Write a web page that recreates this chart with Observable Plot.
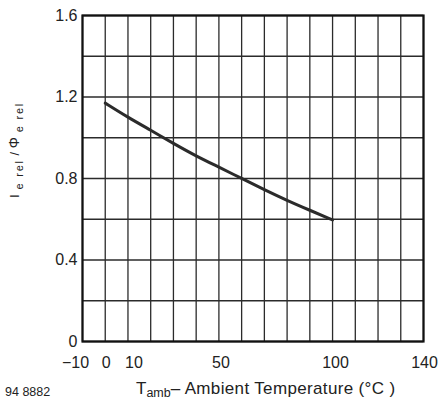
<!DOCTYPE html>
<html>
<head>
<meta charset="utf-8">
<script src="https://cdn.jsdelivr.net/npm/d3@7"></script>
<script src="https://cdn.jsdelivr.net/npm/@observablehq/plot@0.6"></script>
<style>
  html, body { margin: 0; padding: 0; background: #fff; }
  #chart svg { display: block; }
</style>
</head>
<body>
<div id="chart"></div>
<script>
// Ambient temperature (°C)
const temps = [0, 10, 20, 30, 40, 50, 60, 70, 80, 90, 100];
// Relative radiant intensity / radiant power
const relValues = [1.17, 1.10, 1.037, 0.972, 0.91, 0.856, 0.80, 0.745, 0.692, 0.644, 0.597];

// Grid and tick labels
const xGrid = [-10, 0, 10, 20, 30, 40, 50, 60, 70, 80, 90, 100, 110, 120, 130, 140];
const yGrid = [0, 0.2, 0.4, 0.6, 0.8, 1.0, 1.2, 1.4, 1.6];
const xTickLabels = [-10, 0, 10, 50, 100, 140];
const yTickLabels = [0, 0.4, 0.8, 1.2, 1.6];

const data = temps.map((t, i) => ({t, v: relValues[i]}));

const ink = "#2b2b2b";
const font = "'Liberation Sans', Arial, Helvetica, sans-serif";

// small horizontal nudges of crowded tick labels, as in the original
const xLabelNudge = {"-10": -7, "0": 1, "10": 6, "50": 2, "100": 3, "140": 1};
const xAxisOpts = {tickSize: 0, tickPadding: 15, fontSize: 16, label: null, fill: "#222"};

const chart = Plot.plot({
  width: 438,
  height: 401,
  marginLeft: 82,
  marginRight: 15,
  marginTop: 15,
  marginBottom: 60,
  style: {fontFamily: font, color: ink, background: "#fff"},
  x: {domain: [-10, 140]},
  y: {domain: [0, 1.6]},
  marks: [
    Plot.ruleX(xGrid, {stroke: ink, strokeWidth: 1.3, strokeOpacity: 1}),
    Plot.ruleY(yGrid, {stroke: ink, strokeWidth: 1.3, strokeOpacity: 1}),
    Plot.frame({stroke: "#111", strokeWidth: 2.2}),
    Plot.line(data, {x: "t", y: "v", stroke: ink, strokeWidth: 3, curve: "basis"}),
    ...xTickLabels.map(t => Plot.axisX([t], {...xAxisOpts, dx: xLabelNudge[String(t)] || 0})),
    Plot.axisY(yTickLabels, {
      tickSize: 0, tickPadding: 5, fontSize: 16, label: null, fill: "#222",
      tickFormat: d => d === 0 ? "0" : d3.format(".1f")(d)
    })
  ]
});

const svg = d3.select(chart);

// Y-axis title with subscripts
const yl = svg.append("text")
  .attr("transform", "translate(18.5,150) rotate(-90)")
  .attr("text-anchor", "middle")
  .attr("font-family", font)
  .attr("font-size", 13)
  .attr("fill", "#222");
yl.append("tspan").text("I");
yl.append("tspan").attr("font-size", 11).attr("dy", 4).attr("letter-spacing", 1.8).text(" e rel");
yl.append("tspan").attr("dy", -4).text(" / ");
yl.append("tspan").attr("font-size", 14).text("Φ");
yl.append("tspan").attr("font-size", 11).attr("dy", 4).attr("letter-spacing", 1.8).text(" e rel");

// X-axis title with subscript
const xl = svg.append("text")
  .attr("x", 136)
  .attr("y", 394)
  .attr("text-anchor", "start")
  .attr("font-family", font)
  .attr("font-size", 17)
  .attr("fill", "#222");
xl.append("tspan").text("T");
xl.append("tspan").attr("font-size", 12.5).attr("dy", 3).text("amb");
xl.append("tspan").attr("dy", -3).attr("letter-spacing", 0.35).text("– Ambient Temperature (°C )");

// Figure number
svg.append("text")
  .attr("x", 5)
  .attr("y", 396)
  .attr("text-anchor", "start")
  .attr("font-family", font)
  .attr("font-size", 12.5)
  .attr("fill", "#222")
  .text("94 8882");

document.getElementById("chart").appendChild(chart);
</script>
</body>
</html>
